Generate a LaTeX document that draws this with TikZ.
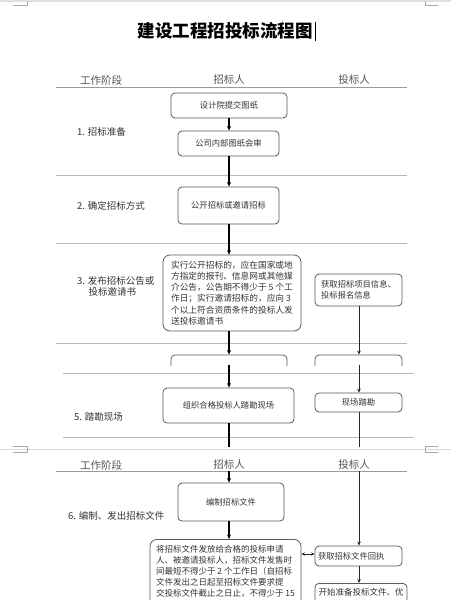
\documentclass[tikz,border=0pt]{standalone}
\usepackage{fontspec}
\setmainfont{Noto Sans CJK SC}
\usetikzlibrary{arrows.meta}
\definecolor{txt}{HTML}{333333}
\definecolor{hdr}{HTML}{555555}
\definecolor{boxgray}{HTML}{5A5A5A}
\definecolor{sepgray}{HTML}{B8B8B8}
\definecolor{hdrline}{HTML}{9A9A9A}
\definecolor{pagegray}{HTML}{D8D8D8}
\tikzset{
  box/.style={draw=boxgray, rounded corners=4pt, line width=0.8pt, inner sep=0pt,
    font=\fontsize{8.3}{11}\selectfont, text=txt, align=center},
  tbox/.style={box, align=left, inner xsep=0pt, inner ysep=5pt},
  sepline/.style={draw=sepgray, line width=0.9pt},
  hdrrule/.style={draw=hdrline, line width=1pt},
  hdrtext/.style={font=\fontsize{10.5}{12}\selectfont, text=hdr},
  stagetext/.style={font=\fontsize{9.5}{11.5}\selectfont, text=txt, anchor=west, align=left, inner sep=0pt},
  arrL/.style={-{Stealth[length=4.5pt,width=4pt]}, line width=1.4pt, draw=black},
  arrR/.style={-{Stealth[length=4pt,width=3.6pt]}, line width=0.75pt, draw=black!85},
  lineL/.style={line width=1.4pt, draw=black},
  lineR/.style={line width=0.75pt, draw=black!85},
  dbl/.style={{Stealth[length=3.5pt,width=3.2pt]}-{Stealth[length=3.5pt,width=3.2pt]}, line width=0.75pt, draw=black!85},
  pagemark/.style={draw=black!35, line width=0.6pt}
}
\begin{document}
\begin{tikzpicture}[x=1pt,y=-1pt]
\clip (0,0) rectangle (451,600);
\fill[white] (0,0) rectangle (451,600);
% top page edge
\fill[black!12] (0,0) rectangle (451,1.5);
\draw[pagemark] (13,5) -- (27,5) -- (27,1);
\draw[pagemark] (438,5) -- (425,5) -- (425,1);

% title
\node[font=\fontsize{17.5}{20}\selectfont\bfseries, text=black] (title) at (225,31) {建设工程招投标流程图};
\draw[line width=0.9pt] (315.5,22) -- (315.5,41);

% header 1
\node[hdrtext] (h1a) at (101,80) {工作阶段};
\node[hdrtext] (h1b) at (229,80) {招标人};
\node[hdrtext] (h1c) at (354,80) {投标人};
\coordinate (r1s) at (56,87); \coordinate (r1e) at (407,87);
\draw[hdrrule] (r1s) -- (r1e);

% separators page 1
\coordinate (s1a) at (56,175); \coordinate (s1b) at (407,175);
\coordinate (s2a) at (56,243); \coordinate (s2b) at (407,243);
\coordinate (s3a) at (56,343); \coordinate (s3b) at (407,343);
\draw[sepline] (s1a) -- (s1b);
\draw[sepline] (s2a) -- (s2b);
\draw[sepline] (s3a) -- (s3b);

% stage labels
\node[stagetext] (st1) at (77,132) {1. 招标准备};
\node[stagetext] (st2) at (77,206) {2. 确定招标方式};
\node[stagetext, anchor=north west] (st3) at (77,276) {3. 发布招标公告或\\\hspace*{11.5pt}投标邀请书};

% boxes page 1
\node[box, minimum width=116pt, minimum height=25pt] (b1) at (229,105.5) {设计院提交图纸};
\node[box, minimum width=101pt, minimum height=25pt] (b2) at (228.5,143.5) {公司内部图纸会审};
\node[box, minimum width=101pt, minimum height=37pt] (b3) at (228.5,205.5) {公开招标或邀请招标};
\node[tbox, rounded corners=7pt, minimum width=138pt, minimum height=76pt, font=\fontsize{8.7}{11.2}\selectfont] (b4) at (232,293)
 {实行公开招标的，应在国家或地\\方指定的报刊、信息网或其他媒\\介公告，公告期不得少于 5 个工\\作日；实行邀请招标的，应向 3\\个以上符合资质条件的投标人发\\送投标邀请书};
\node[tbox, minimum width=87pt, minimum height=32pt] (r3) at (358.5,290)
 {获取招标项目信息、\\投标报名信息};

% arrows page 1
\draw[arrL] (b1.south -| 229,0) -- (b2.north -| 229,0);
\draw[arrL] (b2.south -| 229,0) -- (b3.north -| 229,0);
\draw[arrL] (b3.south -| 229,0) -- (b4.north -| 229,0);

% partial boxes cut by the page end
\begin{scope}
\clip (0,0) rectangle (451,365);
\node[box, minimum width=116pt, minimum height=30pt] (pl) at (229,370) {};
\node[box, minimum width=87pt, minimum height=30pt] (pr) at (358.5,370) {};
\end{scope}
\draw[arrL] (b4.south -| pl.north) -- (pl.north);
\draw[arrR] (r3.south -| 359,0) -- (pr.north -| 359,0);

% page 2 part (stage 5)
\coordinate (s4a) at (63,373); \coordinate (s4b) at (414,373);
\coordinate (s5a) at (63,437); \coordinate (s5b) at (414,437);
\draw[sepline] (s4a) -- (s4b);
\draw[sepline] (s5a) -- (s5b);
\node[box, minimum width=131pt, minimum height=35pt] (b5) at (228.5,405.5) {组织合格投标人踏勘现场};
\node[box, minimum width=87pt, minimum height=19pt] (r5) at (358.5,402.5) {现场踏勘};
\node[stagetext] (st5) at (74,417) {5. 踏勘现场};
\coordinate (cutL) at (229,365); \coordinate (cutR) at (359,365);
\draw[arrL] (cutL) -- (cutL |- b5.north);
\draw[arrR] (cutR) -- (cutR |- r5.north);
\coordinate (pbL) at (229,446.5); \coordinate (pbR) at (359,446.5);
\draw[lineL] (b5.south -| pbL) -- (pbL);
\draw[lineR] (r5.south -| pbR) -- (pbR);

% page break
\draw[draw=pagegray, line width=0.8pt] (0,449) -- (451,449);
\draw[pagemark] (13,446) -- (27,446) -- (27,452) -- (13,452);
\draw[pagemark] (438,446) -- (425,446) -- (425,452) -- (438,452);

% header 2
\node[hdrtext] (h2a) at (101,465) {工作阶段};
\node[hdrtext] (h2b) at (229,465) {招标人};
\node[hdrtext] (h2c) at (354,465) {投标人};
\coordinate (r2s) at (56,471); \coordinate (r2e) at (407,471);
\draw[hdrrule] (r2s) -- (r2e);
\coordinate (t2L) at (229,471); \coordinate (t2R) at (359,471);

% stage 6
\node[stagetext] (st6) at (68,516) {6. 编制、发出招标文件};
\node[box, minimum width=106pt, minimum height=38pt] (b6) at (231,502) {编制招标文件};
\node[tbox, rounded corners=7pt, anchor=north, minimum width=151pt, inner ysep=5.5pt, font=\fontsize{8.5}{11}\selectfont] (b7) at (225.5,539)
 {将招标文件发放给合格的投标申请\\人、被邀请投标人，招标文件发售时\\间最短不得少于 2 个工作日（自招标\\文件发出之日起至招标文件要求提\\交投标文件截止之日止，不得少于 15\\\strut\\\strut};
\node[box, minimum width=87pt, minimum height=20pt, align=left, text width=81pt] (r6) at (358.5,556) {获取招标文件回执};
\node[tbox, anchor=north, minimum width=92pt, font=\fontsize{8.5}{11}\selectfont] (r7) at (361,583)
 {开始准备投标文件、优\\\strut\\\strut};

\draw[arrL] (t2L) -- (t2L |- b6.north);
\draw[arrR] (t2R) -- (t2R |- r6.north);
\draw[arrL] (b6.south -| 229,0) -- (b7.north -| 229,0);
\draw[arrR] (r6.south -| 359,0) -- (r7.north -| 359,0);
\draw[dbl] ([yshift=2pt]r6.west -| b7.east) -- ([yshift=2pt]r6.west);
\end{tikzpicture}
\end{document}
